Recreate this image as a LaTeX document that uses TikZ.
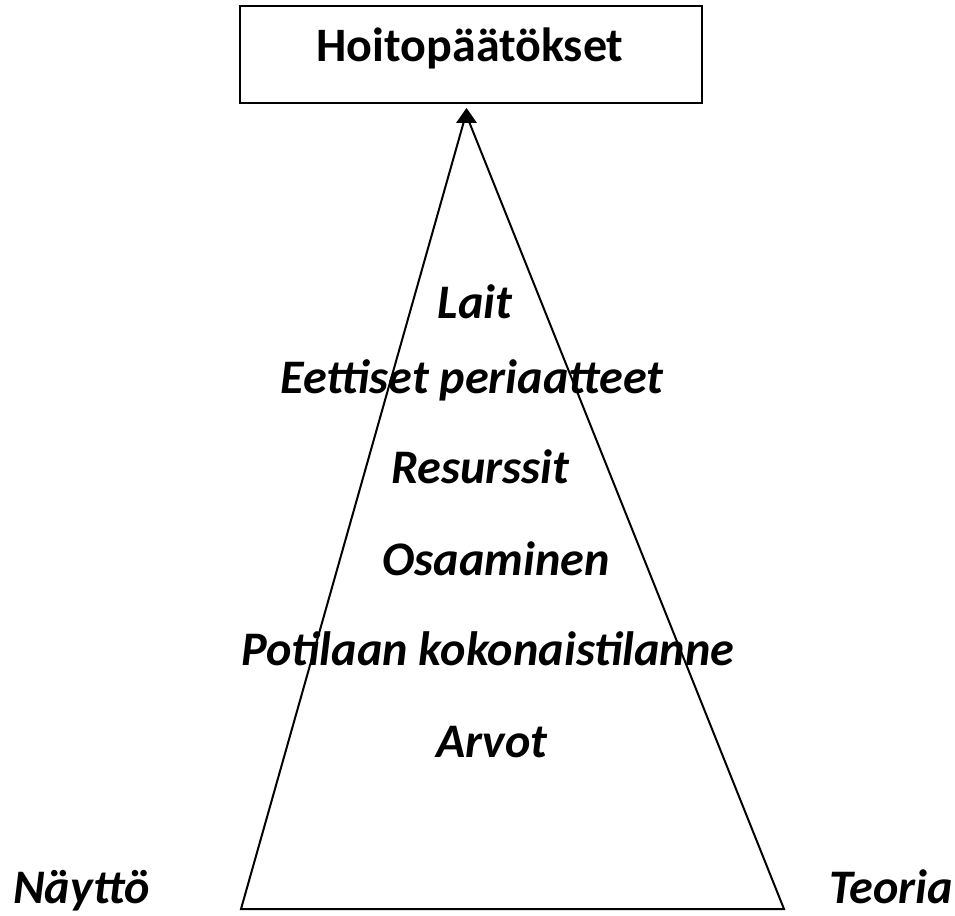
\documentclass[tikz,border=0pt]{standalone}
\usepackage{fontspec}
\setmainfont{Carlito}
\begin{document}
\begin{tikzpicture}[x=1pt,y=-1pt,line width=2pt,
  lbl/.style={font=\fontsize{48.2}{50}\selectfont\bfseries\itshape,inner sep=0pt,anchor=base},
  ttl/.style={font=\fontsize{48}{50}\selectfont\bfseries,inner sep=0pt,anchor=base}]
\useasboundingbox (0,0) rectangle (955,915);
% box
\node[draw,line width=2.5pt,minimum width=462pt,minimum height=97pt,inner sep=0pt] (box) at (471,54.5) {};
\node[ttl] (title) at (470,62) {Hoitopäätökset};
% triangle
\coordinate (apex) at (466,114);
\coordinate (bl) at (241,909);
\coordinate (br) at (784,909);
\draw (bl) -- (apex) -- (br) -- cycle;
% arrowhead at apex
\coordinate (tip) at (466.5,108);
\fill (tip) -- ++(-10.5,15) -- ++(21,0) -- cycle;
% labels
\node[lbl] (lait) at (475,318) {Lait};
\node[lbl] (eett) at (472,393) {Eettiset periaatteet};
\node[lbl] (res) at (480,483) {Resurssit};
\node[lbl] (osa) at (496,575) {Osaaminen};
\node[lbl] (pot) at (488,665) {Potilaan kokonaistilanne};
\node[lbl] (arv) at (492,757) {Arvot};
\node[lbl] (nay) at (81.5,903) {Näyttö};
\node[lbl] (teo) at (891,903) {Teoria};
\end{tikzpicture}
\end{document}
